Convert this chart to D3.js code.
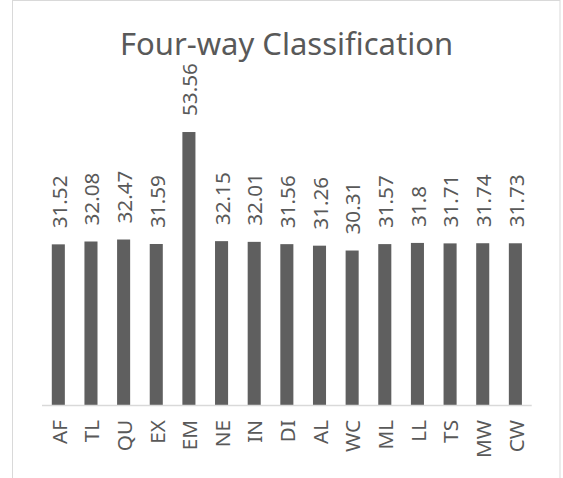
<!DOCTYPE html>
<html>
<head>
  <meta charset="UTF-8">
  <title>Four-way Classification</title>
  <script src="https://d3js.org/d3.v7.min.js"></script>
  <style>
    body {
      margin: 0;
      padding: 0;
      background: white;
      font-family: "Noto Sans", sans-serif;
    }
    svg {
      display: block;
    }
  </style>
</head>
<body>
<svg></svg>

<script>
const categories = ["AF", "TL", "QU", "EX", "EM", "NE", "IN", "DI", "AL", "WC", "ML", "LL", "TS", "MW", "CW"];
const values = [31.52, 32.08, 32.47, 31.59, 53.56, 32.15, 32.01, 31.56, 31.26, 30.31, 31.57, 31.8, 31.71, 31.74, 31.73];
const valueLabels = ["31.52", "32.08", "32.47", "31.59", "53.56", "32.15", "32.01", "31.56", "31.26", "30.31", "31.57", "31.8", "31.71", "31.74", "31.73"];
const title = "Four-way Classification";

let width = 563, height = 478;
let svg = d3.select("svg").attr("width", width).attr("height", height);

// chart border (bottom runs off the page)
svg.append("rect")
  .attr("x", 12.5).attr("y", 0.5)
  .attr("width", 547.5).attr("height", 520)
  .attr("fill", "none")
  .attr("stroke", "#d9d9d9");

// plot area
let x = d3.scaleBand()
  .domain(categories)
  .range([42, 531.7])
  .paddingInner(0.6)
  .paddingOuter(0.3);

let y = d3.scaleLinear()
  .domain([0, 60])
  .range([405, 99.2]);

svg.append("text")
  .attr("x", 286.5)
  .attr("y", 55)
  .attr("text-anchor", "middle")
  .attr("fill", "#595959")
  .style("font-size", "31px")
  .text(title);

// bars
svg.append("g")
  .selectAll("rect")
  .data(values)
  .join("rect")
  .attr("x", (d, i) => x(categories[i]))
  .attr("y", d => y(d))
  .attr("width", x.bandwidth())
  .attr("height", d => y(0) - y(d))
  .attr("fill", "#5f5f5f");

// value labels, rotated
svg.append("g")
  .selectAll("text")
  .data(values)
  .join("text")
  .attr("transform", (d, i) => `translate(${x(categories[i]) + x.bandwidth() / 2 + 0.8}, ${y(d) - 16}) rotate(-90)`)
  .attr("dy", "0.36em")
  .attr("text-anchor", "start")
  .attr("fill", "#595959")
  .style("font-size", "20.7px")
  .text((d, i) => valueLabels[i]);

// category axis
let xAxis = d3.axisBottom(x).tickSize(0).tickPadding(0);
let gx = svg.append("g")
  .attr("transform", `translate(0, ${y(0)})`)
  .call(xAxis);
gx.select(".domain").attr("stroke", "#d9d9d9").attr("stroke-width", 1.5)
  .attr("d", `M42,0.5H531.7`);
gx.selectAll(".tick text")
  .attr("transform", "translate(0.8, 15) rotate(-90)")
  .attr("dy", "0.36em")
  .attr("y", 0)
  .attr("x", 0)
  .attr("text-anchor", "end")
  .attr("fill", "#595959")
  .style("font-family", "Noto Sans, sans-serif")
  .style("font-size", "20.7px");
</script>

</body>
</html>
